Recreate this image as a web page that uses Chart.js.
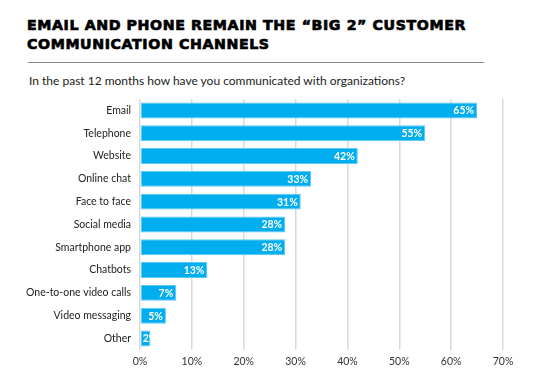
<!DOCTYPE html>
<html><head><meta charset="utf-8">
<script src="https://cdn.jsdelivr.net/npm/chart.js@4"></script>
<style>
html,body{margin:0;padding:0;background:#fff;width:539px;height:372px;overflow:hidden;font-family:Lato,"Open Sans",sans-serif;}
#title{position:absolute;left:27px;top:16px;font-family:"DejaVu Sans",sans-serif;font-weight:bold;font-size:14.2px;letter-spacing:0.6px;line-height:19px;color:#000;-webkit-text-stroke:0.7px #000;white-space:nowrap;}
#sep{position:absolute;left:28px;top:62px;width:456px;height:1px;background:#888;}
#sub{position:absolute;left:29px;top:73px;font-family:Lato,sans-serif;font-size:12px;color:#222;white-space:nowrap;}
#wrap{position:absolute;left:0;top:90px;width:539px;height:285px;}
</style></head>
<body>
<div id="title">EMAIL AND PHONE REMAIN THE “BIG 2” CUSTOMER<br>COMMUNICATION CHANNELS</div>
<div id="sep"></div>
<div id="sub">In the past 12 months how have you communicated with organizations?</div>
<div id="wrap"><canvas id="c" width="539" height="285"></canvas></div>
<script>
const categories = ["Email","Telephone","Website","Online chat","Face to face","Social media","Smartphone app","Chatbots","One-to-one video calls","Video messaging","Other"];
const values = [65,55,42,33,31,28,28,13,7,5,2];
const xTicks = [0,10,20,30,40,50,60,70];

const labelPlugin = {
  id:'barLabels',
  afterDatasetsDraw(chart){
    const ctx = chart.ctx;
    const meta = chart.getDatasetMeta(0);
    meta.data.forEach((bar,i)=>{
      const h = bar.height;
      const left = bar.base, right = bar.x;
      ctx.save();
      ctx.beginPath();
      ctx.rect(left, bar.y - h/2, right-left, h);
      ctx.clip();
      ctx.fillStyle = '#fff';
      ctx.font = 'bold 10.5px Lato, sans-serif';
      ctx.textAlign = 'right';
      ctx.textBaseline = 'middle';
      const txt = values[i] + '%';
      const w = ctx.measureText(txt).width;
      let x = right - 3;
      if (right - left < w + 6) { ctx.textAlign='left'; x = left + 2; }
      ctx.fillText(txt, x, bar.y + 0.5);
      ctx.restore();
    });
  }
};

new Chart(document.getElementById('c'), {
  type:'bar',
  data:{labels:categories, datasets:[{data:values, backgroundColor:'#00aeef', borderColor:'#5cc8f2', borderWidth:1, borderSkipped:false, categoryPercentage:1, barPercentage:0.7}]},
  options:{
    indexAxis:'y', responsive:false, animation:false,
    layout:{padding:{top:9,right:36,bottom:1.5,left:0}},
    plugins:{legend:{display:false}, tooltip:{enabled:false}},
    scales:{
      x:{min:0,max:70,
        afterBuildTicks(s){ s.ticks = xTicks.map(v=>({value:v})); },
        grid:{color:'#d9d9d9', lineWidth:1.5, drawTicks:false},
        border:{display:false},
        ticks:{padding:5.5, color:'#333', font:{family:'Lato', size:10.5}, callback:v=>v+'%'}},
      y:{
        afterFit(s){ s.width = 140; s.paddingTop = 0; s.paddingBottom = 0; },
        grid:{display:false, drawTicks:false},
        border:{display:false},
        ticks:{padding:9, color:'#222', font:{family:'Lato', size:10.5}}}
    }
  },
  plugins:[labelPlugin]
});
</script>
</body></html>
